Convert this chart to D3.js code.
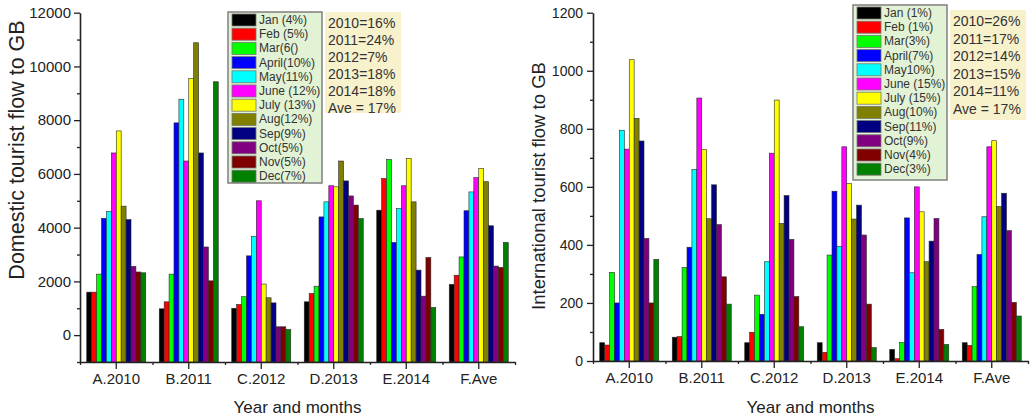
<!DOCTYPE html>
<html><head><meta charset="utf-8">
<script src="https://cdn.jsdelivr.net/npm/d3@7"></script>
<style>
body{margin:0;background:#fff;}
svg{display:block;font-family:"Liberation Sans",Arial,sans-serif;}
</style></head><body>
<svg id="chart" width="1032" height="419"></svg>
<script>
// Categories and series
const years = ["A.2010", "B.2011", "C.2012", "D.2013", "E.2014", "F.Ave"];
const months = ["Jan", "Feb", "Mar", "Apr", "May", "Jun", "Jul", "Aug", "Sep", "Oct", "Nov", "Dec"];
const monthColors = ["#000000", "#ff0000", "#00ff00", "#0000ff", "#00ffff", "#ff00ff",
                     "#ffff00", "#808000", "#000080", "#800080", "#800000", "#008000"];

// Domestic tourist flow, Jan..Dec per year
const dom2010 = [1600, 1600, 2270, 4350, 4600, 6780, 7600, 4800, 4300, 2560, 2350, 2320];
const dom2011 = [980, 1240, 2270, 7900, 8780, 6480, 9550, 10880, 6780, 3280, 2020, 9430];
const dom2012 = [1000, 1140, 1430, 2950, 3680, 5000, 1900, 1390, 1200, 310, 310, 210];
const dom2013 = [1240, 1550, 1820, 4400, 4960, 5560, 5520, 6480, 5740, 5180, 4840, 4340];
const dom2014 = [4650, 5830, 6540, 3450, 4710, 5560, 6580, 4960, 2420, 1450, 2890, 1030];
const domAve  = [1890, 2230, 2910, 4630, 5330, 5860, 6200, 5710, 4070, 2570, 2520, 3450];

// International tourist flow, Jan..Dec per year
const int2010 = [63, 55, 305, 200, 795, 730, 1038, 836, 758, 422, 200, 350];
const int2011 = [82, 84, 322, 392, 660, 906, 728, 490, 607, 470, 290, 196];
const int2012 = [63, 99, 227, 161, 342, 716, 899, 474, 570, 419, 222, 118];
const int2013 = [63, 30, 365, 585, 394, 738, 612, 489, 537, 434, 196, 46];
const int2014 = [40, 8, 64, 493, 304, 600, 514, 342, 413, 491, 109, 57];
const intAve  = [63, 54, 256, 367, 497, 738, 759, 532, 578, 449, 202, 155];

// Legend and annotation texts
const domLegend = ["Jan (4%)", "Feb (5%)", "Mar(6()", "April(10%)", "May(11%)", "June (12%)",
                   "July (13%)", "Aug(12%)", "Sep(9%)", "Oct(5%)", "Nov(5%)", "Dec(7%)"];
const intLegend = ["Jan (1%)", "Feb (1%)", "Mar(3%)", "April(7%)", "May10%)", "June (15%)",
                   "July (15%)", "Aug(10%)", "Sep(11%)", "Oct(9%)", "Nov(4%)", "Dec(3%)"];
const domShares = ["2010=16%", "2011=24%", "2012=7%", "2013=18%", "2014=18%", "Ave = 17%"];
const intShares = ["2010=26%", "2011=17%", "2012=14%", "2013=15%", "2014=11%", "Ave = 17%"];

// Axis ticks
const domTicks = [0, 2000, 4000, 6000, 8000, 10000, 12000];
const domMinor = [-1000, 1000, 3000, 5000, 7000, 9000, 11000];
const intTicks = [0, 200, 400, 600, 800, 1000, 1200];
const intMinor = [100, 300, 500, 700, 900, 1100];

const svg = d3.select("#chart");
const ink = "#222";

function panel(cfg) {
  const g = svg.append("g");
  const x0 = d3.scaleBand().domain(years).range(cfg.xRange).paddingInner(0.186).paddingOuter(0.093);
  const x1 = d3.scaleBand().domain(months).range([0, x0.bandwidth()]);
  const y = d3.scaleLinear().domain(cfg.yDomain).range(cfg.yRange);
  const base = cfg.yDomain[0];

  // bars
  const groups = g.selectAll("g.year").data(years.map((yr, i) => ({yr, vals: cfg.series[i]})))
    .join("g").attr("class", "year")
    .attr("transform", d => `translate(${x0(d.yr)},0)`);
  groups.selectAll("rect").data(d => d.vals.map((v, j) => ({m: months[j], v, c: monthColors[j]})))
    .join("rect")
    .attr("x", d => x1(d.m))
    .attr("width", x1.bandwidth())
    .attr("y", d => y(d.v))
    .attr("height", d => y(base) - y(d.v))
    .attr("fill", d => d.c)
    .attr("stroke", "#2a2a2a")
    .attr("stroke-width", 0.6);

  // y axis
  const yAxis = g.append("g").attr("transform", `translate(${cfg.xRange[0]},0)`)
    .call(d3.axisLeft(y).tickValues(cfg.ticks).tickFormat(d3.format("d"))
      .tickSize(6).tickSizeOuter(0).tickPadding(cfg.yPad));
  g.append("g").attr("transform", `translate(${cfg.xRange[0]},0)`)
    .call(d3.axisLeft(y).tickValues(cfg.minor).tickSize(3).tickFormat(""))
    .select(".domain").remove();

  // x axis
  const xAxis = g.append("g").attr("transform", `translate(0,${cfg.yRange[0]})`)
    .call(d3.axisBottom(x0).tickSize(7).tickSizeOuter(0).tickPadding(4));
  const xb = d3.scaleLinear().domain([0, years.length]).range(cfg.xRange);
  g.append("g").attr("transform", `translate(0,${cfg.yRange[0]})`)
    .call(d3.axisBottom(xb).tickValues(d3.range(years.length + 1)).tickSize(3).tickFormat(""))
    .select(".domain").remove();

  g.selectAll(".domain").attr("stroke", ink).attr("stroke-width", 1.6);
  g.selectAll(".tick line").attr("stroke", ink).attr("stroke-width", 1.3);
  yAxis.selectAll("text").attr("font-size", cfg.yFont).attr("fill", ink).attr("font-family", null);
  xAxis.selectAll("text").attr("font-size", 15).attr("fill", ink).attr("font-family", null);

  // titles
  g.append("text")
    .attr("transform", `translate(${cfg.yTitle[0]},${cfg.yTitle[1]}) rotate(-90)`)
    .attr("text-anchor", "middle").attr("dominant-baseline", "central")
    .attr("font-size", cfg.yTitleFont).attr("fill", ink)
    .text(cfg.yLabel);
  g.append("text")
    .attr("x", (cfg.xRange[0] + cfg.xRange[1]) / 2 + cfg.xTitleShift).attr("y", 412.5)
    .attr("text-anchor", "middle").attr("font-size", 17).attr("fill", ink)
    .text("Year and months");

  // month legend
  const L = cfg.legend;
  const leg = g.append("g");
  leg.append("rect").attr("x", L.x).attr("y", L.y).attr("width", L.w).attr("height", L.h)
    .attr("fill", "#e2f2d4").attr("stroke", "#808080").attr("stroke-width", 1.5);
  const rows = leg.selectAll("g.row").data(cfg.legendText).join("g").attr("class", "row")
    .attr("transform", (d, i) => `translate(${L.x + 4},${L.y + 8 + i * L.step})`);
  rows.append("rect").attr("x", 0).attr("y", -6).attr("width", 24).attr("height", 12)
    .attr("fill", (d, i) => monthColors[i]).attr("stroke", "#777").attr("stroke-width", 0.8);
  rows.append("text").attr("x", 27).attr("y", 0).attr("dominant-baseline", "central")
    .attr("font-size", 12).attr("fill", "#333").text(d => d);

  // yearly share box
  const S = cfg.shares;
  const sb = g.append("g");
  sb.append("rect").attr("x", S.x).attr("y", S.y).attr("width", S.w).attr("height", S.h)
    .attr("fill", "#f7f1cc");
  sb.selectAll("text").data(cfg.shareText).join("text")
    .attr("x", S.x + 3).attr("y", (d, i) => S.y + 11 + i * S.step)
    .attr("dominant-baseline", "central")
    .attr("font-size", 14).attr("fill", "#333").text(d => d);
}

panel({
  xRange: [80, 515], yDomain: [-1000, 12000], yRange: [362, 12.7],
  series: [dom2010, dom2011, dom2012, dom2013, dom2014, domAve],
  ticks: domTicks, minor: domMinor, yPad: 3, yFont: 15,
  yLabel: "Domestic tourist flow to GB", yTitle: [17, 150], yTitleFont: 21.5, xTitleShift: 0,
  legend: {x: 228, y: 12, w: 94, h: 171, step: 14.2}, legendText: domLegend,
  shares: {x: 325, y: 12, w: 76, h: 101, step: 17}, shareText: domShares
});

panel({
  xRange: [593, 1028], yDomain: [0, 1200], yRange: [361, 12.7],
  series: [int2010, int2011, int2012, int2013, int2014, intAve],
  ticks: intTicks, minor: intMinor, yPad: 4, yFont: 14,
  yLabel: "International tourist flow to GB", yTitle: [538, 186], yTitleFont: 18.5, xTitleShift: 0,
  legend: {x: 853, y: 5, w: 94, h: 175, step: 14.2}, legendText: intLegend,
  shares: {x: 950, y: 10, w: 76, h: 110, step: 17.6}, shareText: intShares
});
</script>
</body></html>
